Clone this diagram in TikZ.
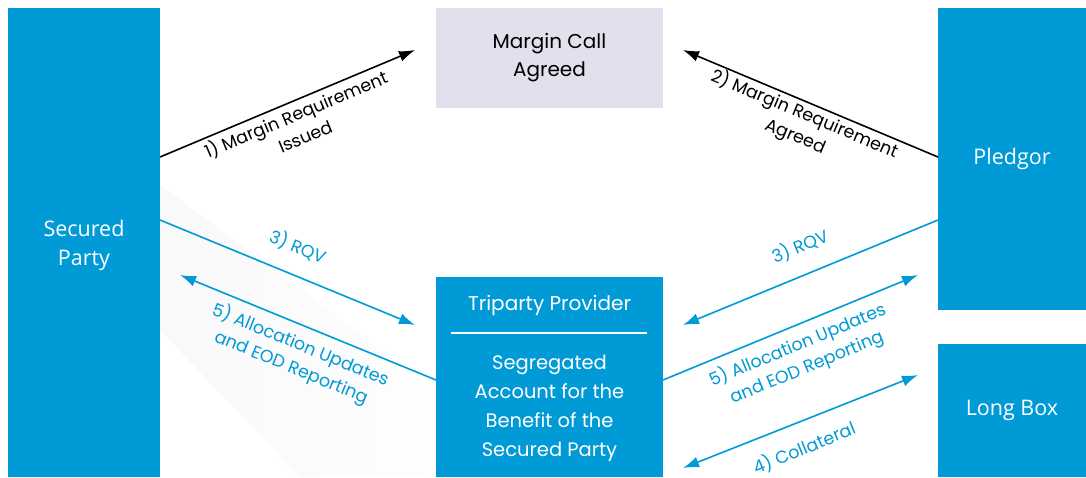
\documentclass[tikz,border=0pt]{standalone}
\usepackage{fontspec}
\setmainfont{Open Sans}
\newfontfamily\geo{Poppins}
\usetikzlibrary{arrows.meta,calc}
\definecolor{pblue}{HTML}{009AD7}
\definecolor{lav}{HTML}{E1E0EC}
\begin{document}
\begin{tikzpicture}[x=1pt,y=-1pt,
  bluebox/.style={fill=pblue,draw=none,text=white,align=center,font=\fontsize{21.5}{29}\selectfont},
  lavbox/.style={fill=lav,draw=none,text=black,align=center,font=\geo\fontsize{20}{28}\selectfont},
  conn/.style={line width=1.6pt,-{Latex[length=16pt,width=11pt]}},
  bconn/.style={conn,draw=pblue},
  kconn/.style={conn,draw=black},
  lab/.style={align=center,font=\geo\fontsize{17.5}{24}\selectfont,inner sep=0pt},
  blab/.style={lab,text=pblue},
  klab/.style={lab,text=black}]
\useasboundingbox (0,0) rectangle (1086,477);
\fill[white] (0,0) rectangle (1086,477);
% faint background swoosh
\shade[left color=black!2.5,right color=black!0.5] (160,185) -- (436,390) -- (436,477) -- (300,477) -- (160,330) -- cycle;
% boxes
\node[bluebox,minimum width=152pt,minimum height=469pt] (sp) at (84,242.5) {};
\node[bluebox,fill=none] (spt) at (sp.center) [yshift=-3pt] {Secured\\Party};
\node[bluebox,minimum width=148pt,minimum height=302pt] (pl) at (1012,159) {Pledgor};
\node[bluebox,minimum width=148pt,minimum height=133pt] (lb) at (1012,410.5) {Long Box};
\node[lavbox,minimum width=227pt,minimum height=100pt] (mc) at (549.5,58) {Margin Call\\Agreed};
\node[fill=pblue,minimum width=227pt,minimum height=200pt,inner sep=0pt] (tp) at (549.5,377) {};
\node[bluebox,font=\geo\fontsize{20}{28}\selectfont,inner sep=0pt] (tpt) at (549.5,305) {Triparty Provider};
\draw[white,line width=2pt] ($(tp.north west)+(15,56)$) coordinate (sl) -- ($(tp.north east)+(-16,56)$) coordinate (sr);
\node[bluebox,font=\geo\fontsize{19.5}{29}\selectfont,inner sep=0pt] (tpb) at (549.5,408) {Segregated\\Account for the\\Benefit of the\\Secured Party};
% connector end points
\coordinate (a1s) at (160,157); \coordinate (a1e) at (415,50);
\coordinate (a2s) at (938,157); \coordinate (a2e) at (683,50);
\coordinate (a3s) at (160,220); \coordinate (a3e) at (415,325);
\coordinate (a5s) at (436,380); \coordinate (a5e) at (180,275);
\coordinate (b3s) at (938,220); \coordinate (b3e) at (683,325);
\coordinate (b5s) at (663,380); \coordinate (b5e) at (918,275);
\coordinate (c4s) at (918,375); \coordinate (c4e) at (683,468);
% connectors
\draw[kconn] (a1s) -- (a1e);
\draw[kconn] (a2s) -- (a2e);
\draw[bconn] (a3s) -- (a3e);
\draw[bconn] (a5s) -- (a5e);
\draw[bconn] (b3s) -- (b3e);
\draw[bconn] (b5s) -- (b5e);
\draw[bconn,{Latex[length=16pt,width=11pt]}-{Latex[length=16pt,width=11pt]}] (c4e) -- (c4s);
% labels
\node[klab,rotate=22.8] (l1) at (300,124) {1) Margin Requirement\\Issued};
\node[klab,rotate=-22.8] (l2) at (800,125) {2) Margin Requirement\\Agreed};
\node[blab,rotate=-22.4] (l3) at (298,247) {3) RQV};
\node[blab,rotate=-22.4] (l5) at (296,356) {5) Allocation Updates\\and EOD Reporting};
\node[blab,rotate=22.4] (m3) at (800,246) {3) RQV};
\node[blab,rotate=22.4] (m5) at (802,356) {5) Allocation Updates\\and EOD Reporting};
\node[blab,rotate=22.4] (m4) at (804,448) {4) Collateral};
\end{tikzpicture}
\end{document}
